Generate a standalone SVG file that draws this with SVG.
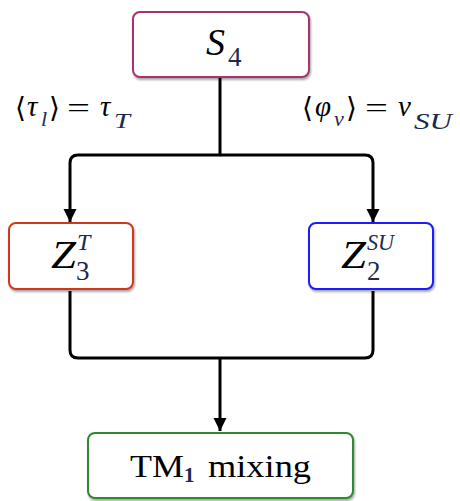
<svg xmlns="http://www.w3.org/2000/svg" width="460" height="501" viewBox="0 0 460 501">
<defs>
<filter id="sh" x="-10%" y="-10%" width="120%" height="130%">
<feDropShadow dx="1" dy="2" stdDeviation="1.2" flood-color="#000" flood-opacity="0.35"/>
</filter>
<marker id="ar" viewBox="0 0 10 10" refX="10" refY="5" markerWidth="4.5" markerHeight="4.5" orient="auto" markerUnits="strokeWidth">
<path d="M0,0 L10,5 L0,10 z" fill="#000"/>
</marker>
<style>
.box{fill:#fff;stroke-width:2;filter:url(#sh)}
.m{font-family:"Liberation Serif","DejaVu Serif",serif;fill:#000}
.i{font-style:italic}
.c{fill:none;stroke:#000;stroke-width:3;stroke-linejoin:round}
.sb{fill:#1a2a50}
</style>
</defs>
<g id="connectors">
<path class="c" d="M220,78 V155 H78 Q70,155 70,163 V222" marker-end="url(#ar)"/>
<path class="c" d="M220,155 H365 Q373,155 373,163 V222" marker-end="url(#ar)"/>
<path class="c" d="M70,291 V350 Q70,358 78,358 H365 Q373,358 373,350 V291"/>
<path class="c" d="M220,358 V431" marker-end="url(#ar)"/>
</g>
<g id="S4">
<rect class="box" x="133" y="12" width="176" height="65" rx="7" stroke="#a8306f"/>
<text class="m i" x="206" y="55" font-size="38">S</text>
<text class="m sb" x="228" y="66" font-size="27">4</text>
</g>
<g id="label-left" class="m">
<text x="15" y="117" font-size="28">⟨</text>
<text class="i" x="27" y="116" font-size="29">τ</text>
<text class="i sb" x="41" y="126" font-size="22">l</text>
<text x="49" y="117" font-size="28">⟩</text>
<text x="67" y="117" font-size="28" textLength="23" lengthAdjust="spacingAndGlyphs">=</text>
<text class="i" x="100" y="116" font-size="29">τ</text>
<text class="i sb" x="114" y="128" font-size="22" textLength="16" lengthAdjust="spacingAndGlyphs">T</text>
</g>
<g id="label-right" class="m">
<text x="302" y="117" font-size="28">⟨</text>
<text class="i" x="315" y="116" font-size="29">φ</text>
<text class="i sb" x="334" y="126" font-size="22">ν</text>
<text x="346" y="117" font-size="28">⟩</text>
<text x="365" y="117" font-size="28" textLength="23" lengthAdjust="spacingAndGlyphs">=</text>
<text class="i" x="398" y="116" font-size="29">v</text>
<text class="i sb" x="414" y="129" font-size="23" textLength="38" lengthAdjust="spacingAndGlyphs">SU</text>
</g>
<g id="Z3T">
<rect class="box" x="9" y="223" width="124" height="66" rx="7" stroke="#d0391c"/>
<text class="m i" x="51" y="268" font-size="39" textLength="25" lengthAdjust="spacingAndGlyphs">Z</text>
<text class="m i sb" x="77" y="250" font-size="24">T</text>
<text class="m sb" x="76" y="280" font-size="27">3</text>
</g>
<g id="Z2SU">
<rect class="box" x="309" y="223" width="124" height="66" rx="7" stroke="#1a1aff"/>
<text class="m i" x="341" y="268" font-size="39" textLength="25" lengthAdjust="spacingAndGlyphs">Z</text>
<text class="m i sb" x="367" y="250" font-size="24" textLength="27" lengthAdjust="spacingAndGlyphs">SU</text>
<text class="m sb" x="367" y="280" font-size="27">2</text>
</g>
<g id="TM1">
<rect class="box" x="88" y="433" width="265" height="65" rx="7" stroke="#2d8a2d"/>
<text class="m" x="130" y="477" font-size="31" textLength="54" lengthAdjust="spacingAndGlyphs">TM</text>
<text class="m sb" x="184" y="482" font-size="21" font-weight="bold">1</text>
<text class="m" x="208" y="477" font-size="31" textLength="103" lengthAdjust="spacingAndGlyphs">mixing</text>
</g>
</svg>
